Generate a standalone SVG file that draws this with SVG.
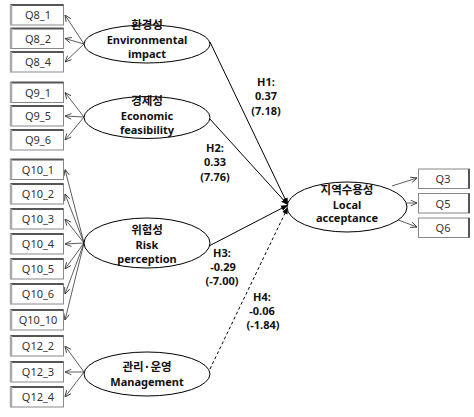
<svg xmlns="http://www.w3.org/2000/svg" width="474" height="417" viewBox="0 0 474 417">
<defs>
<style>
.bx{fill:#fff;stroke:#888;stroke-width:1}
.sh1{stroke:#555;stroke-width:2}
.sh2{stroke:#aaa;stroke-width:2.5}
.bt{font-family:"Noto Sans","Liberation Sans",sans-serif;font-size:11px;fill:#333;text-anchor:middle}
.el{fill:#fff;stroke:#000;stroke-width:1}
.et{font-family:"Noto Sans","Noto Sans CJK KR",sans-serif;font-size:11px;font-weight:bold;fill:#111;text-anchor:middle}
.kt{font-family:"Noto Sans CJK KR",sans-serif;font-size:11.5px;font-weight:bold;fill:#111;text-anchor:middle}
.ht{font-family:"Noto Sans","Liberation Sans",sans-serif;font-size:11px;font-weight:bold;fill:#111;text-anchor:middle}
.m{stroke:#333;stroke-width:0.8;fill:none;marker-end:url(#oa)}
.s{stroke:#000;stroke-width:1;fill:none;marker-end:url(#fa)}
.d{stroke:#000;stroke-width:1;fill:none;stroke-dasharray:3,2.5;marker-end:url(#fa)}
</style>
<marker id="oa" viewBox="0 0 10 10" refX="10" refY="5" markerWidth="7" markerHeight="7" orient="auto" markerUnits="userSpaceOnUse">
<path d="M1,1 L10,5 L1,9" fill="none" stroke="#333" stroke-width="1.2"/>
</marker>
<marker id="fa" viewBox="0 0 10 10" refX="10" refY="5" markerWidth="7" markerHeight="7" orient="auto" markerUnits="userSpaceOnUse">
<path d="M0,1 L10,5 L0,9 z" fill="#000"/>
</marker>
</defs>

<g id="connectors">
<line class="m" x1="84" y1="44" x2="65" y2="15"/>
<line class="m" x1="84" y1="44" x2="65" y2="38.5"/>
<line class="m" x1="84" y1="44" x2="65" y2="62"/>
<line class="m" x1="84" y1="117" x2="65" y2="92.5"/>
<line class="m" x1="84" y1="117" x2="65" y2="116"/>
<line class="m" x1="84" y1="117" x2="65" y2="140"/>
<line class="m" x1="84" y1="243" x2="65" y2="169.5"/>
<line class="m" x1="84" y1="243" x2="65" y2="194"/>
<line class="m" x1="84" y1="243" x2="65" y2="219"/>
<line class="m" x1="84" y1="243" x2="65" y2="244"/>
<line class="m" x1="84" y1="243" x2="65" y2="269"/>
<line class="m" x1="84" y1="243" x2="65" y2="294"/>
<line class="m" x1="84" y1="243" x2="65" y2="320"/>
<line class="m" x1="84" y1="372" x2="65" y2="346"/>
<line class="m" x1="84" y1="372" x2="65" y2="372"/>
<line class="m" x1="84" y1="372" x2="65" y2="397"/>
<line class="m" x1="392" y1="186" x2="417" y2="178"/>
<line class="m" x1="407" y1="203" x2="417" y2="203"/>
<line class="m" x1="393" y1="218" x2="417" y2="227"/>
<line class="s" x1="210" y1="42" x2="288" y2="205"/>
<line class="s" x1="209" y1="118" x2="288" y2="205"/>
<line class="s" x1="209" y1="246" x2="288" y2="205"/>
<line class="d" x1="210" y1="369" x2="288" y2="207"/>
</g>

<g id="labels">
<text class="ht" x="266" y="86">H1:</text>
<text class="ht" x="266" y="100">0.37</text>
<text class="ht" x="266" y="115">(7.18)</text>
<text class="ht" x="215" y="152">H2:</text>
<text class="ht" x="215" y="166">0.33</text>
<text class="ht" x="215" y="181">(7.76)</text>
<text class="ht" x="222" y="257">H3:</text>
<text class="ht" x="223" y="271">-0.29</text>
<text class="ht" x="222" y="285">(-7.00)</text>
<text class="ht" x="262" y="301">H4:</text>
<text class="ht" x="262" y="315">-0.06</text>
<text class="ht" x="263" y="329">(-1.84)</text>
</g>

<g id="env">
<ellipse class="el" cx="147" cy="44" rx="63" ry="19"/>
<text class="kt" x="147" y="29">환경성</text>
<text class="et" x="147" y="44">Environmental</text>
<text class="et" x="147" y="58">impact</text>
</g>
<g id="eco">
<ellipse class="el" cx="147" cy="117.5" rx="63" ry="21"/>
<text class="kt" x="147" y="105">경제성</text>
<text class="et" x="147" y="120">Economic</text>
<text class="et" x="147" y="134">feasibility</text>
</g>
<g id="risk">
<ellipse class="el" cx="147" cy="243" rx="63" ry="25"/>
<text class="kt" x="147" y="234">위험성</text>
<text class="et" x="147" y="249">Risk</text>
<text class="et" x="147" y="263">perception</text>
</g>
<g id="mgmt">
<ellipse class="el" cx="147" cy="374" rx="63" ry="22"/>
<text class="kt" x="147" y="371">관리·운영</text>
<text class="et" x="147" y="386">Management</text>
</g>
<g id="local">
<ellipse class="el" cx="347" cy="207" rx="60" ry="25"/>
<text class="kt" x="347" y="194">지역수용성</text>
<text class="et" x="347" y="208.5">Local</text>
<text class="et" x="347" y="222">acceptance</text>
</g>

<g id="Q8_1"><rect class="bx" x="10.5" y="5" width="53" height="20"/><line class="sh1" x1="10.5" y1="5" x2="63.5" y2="5"/><line class="sh2" x1="11" y1="5" x2="11" y2="25"/><text class="bt" x="38" y="19">Q8_1</text></g>
<g id="Q8_2"><rect class="bx" x="10.5" y="28.5" width="53" height="20"/><line class="sh1" x1="10.5" y1="28.5" x2="63.5" y2="28.5"/><line class="sh2" x1="11" y1="28.5" x2="11" y2="48.5"/><text class="bt" x="38" y="42.5">Q8_2</text></g>
<g id="Q8_4"><rect class="bx" x="10.5" y="52" width="53" height="20"/><line class="sh1" x1="10.5" y1="52" x2="63.5" y2="52"/><line class="sh2" x1="11" y1="52" x2="11" y2="72"/><text class="bt" x="38" y="66">Q8_4</text></g>
<g id="Q9_1"><rect class="bx" x="10.5" y="82.5" width="53" height="20"/><line class="sh1" x1="10.5" y1="82.5" x2="63.5" y2="82.5"/><line class="sh2" x1="11" y1="82.5" x2="11" y2="102.5"/><text class="bt" x="38" y="96.5">Q9_1</text></g>
<g id="Q9_5"><rect class="bx" x="10.5" y="106" width="53" height="20"/><line class="sh1" x1="10.5" y1="106" x2="63.5" y2="106"/><line class="sh2" x1="11" y1="106" x2="11" y2="126"/><text class="bt" x="38" y="120">Q9_5</text></g>
<g id="Q9_6"><rect class="bx" x="10.5" y="130" width="53" height="20"/><line class="sh1" x1="10.5" y1="130" x2="63.5" y2="130"/><line class="sh2" x1="11" y1="130" x2="11" y2="150"/><text class="bt" x="38" y="144">Q9_6</text></g>
<g id="Q10_1"><rect class="bx" x="10.5" y="159.5" width="53" height="20"/><line class="sh1" x1="10.5" y1="159.5" x2="63.5" y2="159.5"/><line class="sh2" x1="11" y1="159.5" x2="11" y2="179.5"/><text class="bt" x="38" y="173.5">Q10_1</text></g>
<g id="Q10_2"><rect class="bx" x="10.5" y="184" width="53" height="20"/><line class="sh1" x1="10.5" y1="184" x2="63.5" y2="184"/><line class="sh2" x1="11" y1="184" x2="11" y2="204"/><text class="bt" x="38" y="198">Q10_2</text></g>
<g id="Q10_3"><rect class="bx" x="10.5" y="209" width="53" height="20"/><line class="sh1" x1="10.5" y1="209" x2="63.5" y2="209"/><line class="sh2" x1="11" y1="209" x2="11" y2="229"/><text class="bt" x="38" y="223">Q10_3</text></g>
<g id="Q10_4"><rect class="bx" x="10.5" y="234" width="53" height="20"/><line class="sh1" x1="10.5" y1="234" x2="63.5" y2="234"/><line class="sh2" x1="11" y1="234" x2="11" y2="254"/><text class="bt" x="38" y="248">Q10_4</text></g>
<g id="Q10_5"><rect class="bx" x="10.5" y="259" width="53" height="20"/><line class="sh1" x1="10.5" y1="259" x2="63.5" y2="259"/><line class="sh2" x1="11" y1="259" x2="11" y2="279"/><text class="bt" x="38" y="273">Q10_5</text></g>
<g id="Q10_6"><rect class="bx" x="10.5" y="284" width="53" height="20"/><line class="sh1" x1="10.5" y1="284" x2="63.5" y2="284"/><line class="sh2" x1="11" y1="284" x2="11" y2="304"/><text class="bt" x="38" y="298">Q10_6</text></g>
<g id="Q10_10"><rect class="bx" x="10.5" y="310" width="53" height="20"/><line class="sh1" x1="10.5" y1="310" x2="63.5" y2="310"/><line class="sh2" x1="11" y1="310" x2="11" y2="330"/><text class="bt" x="38" y="324">Q10_10</text></g>
<g id="Q12_2"><rect class="bx" x="10.5" y="336" width="53" height="20"/><line class="sh1" x1="10.5" y1="336" x2="63.5" y2="336"/><line class="sh2" x1="11" y1="336" x2="11" y2="356"/><text class="bt" x="38" y="350">Q12_2</text></g>
<g id="Q12_3"><rect class="bx" x="10.5" y="362" width="53" height="20"/><line class="sh1" x1="10.5" y1="362" x2="63.5" y2="362"/><line class="sh2" x1="11" y1="362" x2="11" y2="382"/><text class="bt" x="38" y="376">Q12_3</text></g>
<g id="Q12_4"><rect class="bx" x="10.5" y="387" width="53" height="20"/><line class="sh1" x1="10.5" y1="387" x2="63.5" y2="387"/><line class="sh2" x1="11" y1="387" x2="11" y2="407"/><text class="bt" x="38" y="401">Q12_4</text></g>

<g id="Q3"><rect class="bx" x="418.5" y="169" width="51" height="19.5"/><line class="sh1" x1="469" y1="169" x2="469" y2="188.5"/><text class="bt" x="443" y="183">Q3</text></g>
<g id="Q5"><rect class="bx" x="418.5" y="193.5" width="51" height="19.5"/><line class="sh1" x1="469" y1="193.5" x2="469" y2="213"/><text class="bt" x="443" y="207.5">Q5</text></g>
<g id="Q6"><rect class="bx" x="418.5" y="218" width="51" height="19.5"/><line class="sh1" x1="469" y1="218" x2="469" y2="237.5"/><text class="bt" x="443" y="232">Q6</text></g>
</svg>
